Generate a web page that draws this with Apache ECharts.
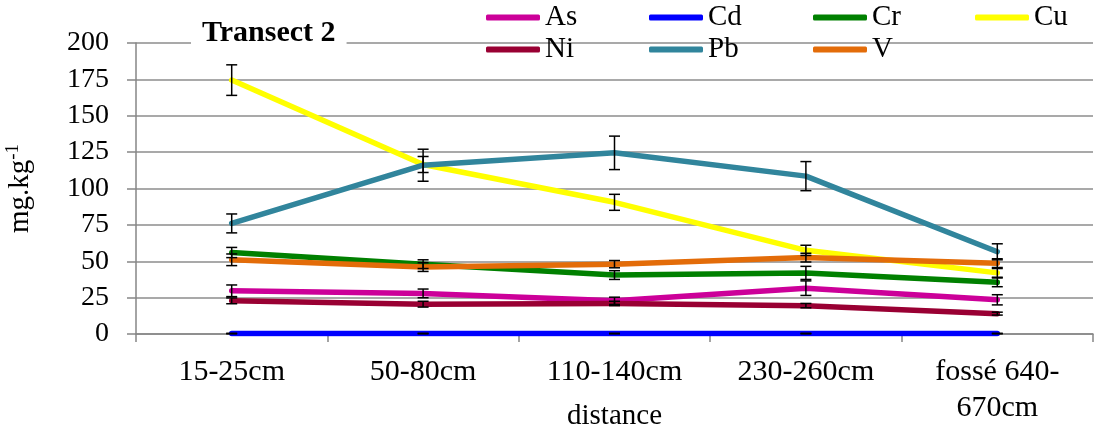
<!DOCTYPE html>
<html>
<head>
<meta charset="utf-8">
<script src="https://cdn.jsdelivr.net/npm/echarts@6/dist/echarts.min.js"></script>
<style>html,body{margin:0;padding:0;background:#fff;}#c{width:1104px;height:431px;}</style>
</head>
<body>
<div id="c"></div>
<script>
// ---- data ----
const categories = ['15-25cm', '50-80cm', '110-140cm', '230-260cm', 'fossé 640-670cm'];
const seriesNames = ['As', 'Cd', 'Cr', 'Cu', 'Ni', 'Pb', 'V'];
const As = [29.7, 27.9, 22.8, 31.5, 23.5];
const Cd = [0.3, 0.3, 0.3, 0.3, 0.3];
const Cr = [56, 48, 40.5, 42, 35.5];
const Cu = [174.5, 116.5, 90.5, 57.5, 42];
const Ni = [22.8, 20.5, 21, 19.5, 14];
const Pb = [76, 116, 124.5, 108.5, 56.5];
const V = [51, 46, 48, 52.5, 48.7];
const AsErr = [4, 3, 2.5, 5, 3.5];
const CdErr = [0.2, 0.2, 0.2, 0.2, 0.2];
const CrErr = [3.5, 3, 3, 4.5, 3];
const CuErr = [10.5, 5.5, 5.5, 3.5, 3];
const NiErr = [2, 2, 1.5, 1.5, 1];
const PbErr = [6.5, 11, 11.5, 10, 5.5];
const VErr = [4, 3, 2.5, 3, 3];
const yTicks = [0, 25, 50, 75, 100, 125, 150, 175, 200];

const values = {As, Cd, Cr, Cu, Ni, Pb, V};
const errors = {As: AsErr, Cd: CdErr, Cr: CrErr, Cu: CuErr, Ni: NiErr, Pb: PbErr, V: VErr};
const colors = {As: '#CC0099', Cd: '#0000FF', Cr: '#008000', Cu: '#FFFF00', Ni: '#990033', Pb: '#31859C', V: '#E36C09'};

const FONT = '"Liberation Serif", "Times New Roman", serif';

const legendPos = {
  As: [486, 3], Cd: [649, 3], Cr: [813, 3], Cu: [975, 3],
  Ni: [486, 35], Pb: [649, 35], V: [813, 35]
};

const series = [];
seriesNames.forEach(n => {
  series.push({
    name: n, type: 'line', data: values[n], showSymbol: false, symbol: 'none',
    lineStyle: {color: colors[n], width: 5.5, cap: 'round', join: 'round'},
    itemStyle: {color: colors[n]},
    z: 2
  });
});
seriesNames.forEach(n => {
  series.push({
    name: n, type: 'custom',
    data: values[n].map((v, i) => [i, v, errors[n][i]]),
    encode: {x: 0, y: 1},
    z: 3,
    silent: true,
    renderItem: function (params, api) {
      const x = api.value(0), y = api.value(1), e = api.value(2);
      const top = api.coord([x, y + e]);
      const bot = api.coord([x, Math.max(0, y - e)]);
      const hw = 5.5;
      const st = {stroke: '#000', lineWidth: 1.5};
      return {
        type: 'group',
        children: [
          {type: 'line', shape: {x1: top[0], y1: top[1], x2: bot[0], y2: bot[1]}, style: st},
          {type: 'line', shape: {x1: top[0] - hw, y1: top[1], x2: top[0] + hw, y2: top[1]}, style: st},
          {type: 'line', shape: {x1: bot[0] - hw, y1: bot[1], x2: bot[0] + hw, y2: bot[1]}, style: st}
        ]
      };
    }
  });
});

const legends = seriesNames.map(n => ({
  data: [n],
  left: legendPos[n][0], top: legendPos[n][1],
  padding: 0,
  itemWidth: 54, itemHeight: 6,
  icon: 'roundRect',
  textStyle: {fontFamily: FONT, fontSize: 29, color: '#000', padding: [0, 0, 0, 0]},
  selectedMode: false
}));

const chart = echarts.init(document.getElementById('c'));
chart.setOption({
  animation: false,
  backgroundColor: '#fff',
  title: {
    text: 'Transect 2',
    left: 191, top: 15,
    padding: [3, 11, 3, 11],
    backgroundColor: '#fff',
    textStyle: {fontFamily: FONT, fontSize: 30, fontWeight: 'bold', color: '#000', lineHeight: 30}
  },
  legend: legends,
  grid: {left: 136, right: 11, top: 43, bottom: 97, containLabel: false, outerBoundsMode: 'none'},
  xAxis: {
    type: 'category',
    data: categories,
    boundaryGap: true,
    name: 'distance',
    nameLocation: 'middle',
    nameGap: 68,
    nameMoveOverlap: false,
    nameTextStyle: {fontFamily: FONT, fontSize: 29, color: '#000'},
    axisLine: {lineStyle: {color: '#868686', width: 1.5}},
    axisTick: {show: true, length: 8, alignWithLabel: false, lineStyle: {color: '#868686', width: 1.5}},
    axisLabel: {
      fontFamily: FONT, fontSize: 30, color: '#000', margin: 20, lineHeight: 36,
      interval: 0,
      formatter: v => v.replace('640-', '640-\n')
    },
    splitLine: {show: false}
  },
  yAxis: {
    type: 'value',
    min: 0, max: 200, interval: 25,
    name: 'mg.kg{sup|-1}',
    nameLocation: 'middle',
    nameGap: 100,
    nameRotate: 90,
    nameMoveOverlap: false,
    nameTextStyle: {
      fontFamily: FONT, fontSize: 29, color: '#000',
      rich: {sup: {fontFamily: FONT, fontSize: 19, color: '#000', verticalAlign: 'top', padding: [0, 0, 13, 0]}}
    },
    axisLine: {show: true, lineStyle: {color: '#868686', width: 1.5}},
    axisTick: {show: true, length: 9, lineStyle: {color: '#868686', width: 1.5}},
    axisLabel: {
      fontFamily: FONT, fontSize: 28, color: '#000', margin: 27,
      formatter: v => (yTicks.indexOf(v) >= 0 ? String(v) : '')
    },
    splitLine: {show: true, lineStyle: {color: '#8c8c8c', width: 1.5}}
  },
  series: series
});
</script>
</body>
</html>
